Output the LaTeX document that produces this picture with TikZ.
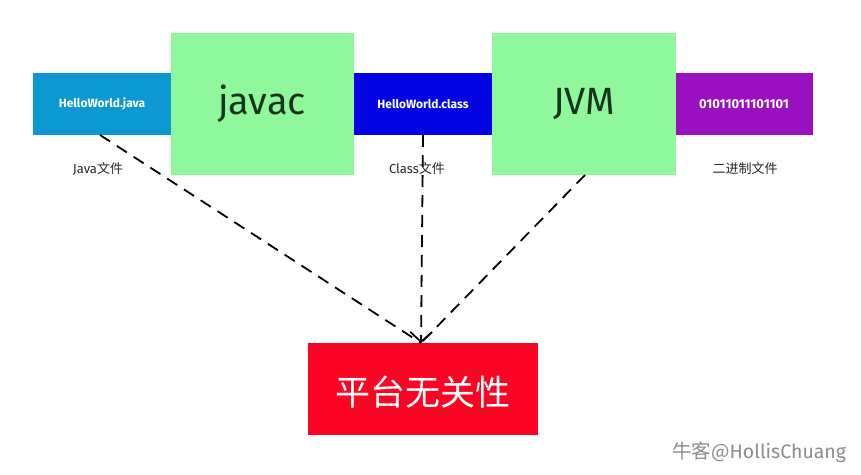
\documentclass[tikz,border=0pt]{standalone}
\usepackage{fontspec}
\setmainfont{Noto Sans CJK SC}
\newfontfamily\latinf{Fira Sans}
\usetikzlibrary{arrows.meta}
\definecolor{javablue}{RGB}{12,152,208}
\definecolor{boxgreen}{RGB}{144,248,156}
\definecolor{classblue}{RGB}{4,4,226}
\definecolor{binpurple}{RGB}{154,16,192}
\definecolor{platred}{RGB}{252,4,36}
\definecolor{inkgreen}{RGB}{24,52,28}
\begin{document}
\begin{tikzpicture}[x=1pt,y=-1pt,
  filebox/.style={inner sep=0pt, text=white, font=\latinf\bfseries\fontsize{12}{14}\selectfont},
  toolbox/.style={inner sep=0pt, text=inkgreen, font=\latinf\fontsize{38}{44}\selectfont},
  caption/.style={inner sep=0pt, text=black!85, font=\fontsize{13}{15}\selectfont},
  dashline/.style={line width=1.8pt, dash pattern=on 12pt off 8pt},
  tip/.style={-{Straight Barb[length=10pt,width=22pt,line width=1.7pt]}}
]
\useasboundingbox (0,0) rectangle (861,474);
\fill[white] (0,0) rectangle (861,474);
% file boxes
\fill[javablue] (33,73) rectangle (172,135);
\node[filebox] (java) at (102,104) {HelloWorld.java};
\fill[classblue] (354,73) rectangle (493,135);
\node[filebox] (class) at (423,104) {HelloWorld.class};
\fill[binpurple] (676,73) rectangle (813,135);
\node[filebox, font=\latinf\bfseries\fontsize{13}{15}\selectfont] (bin) at (744,104) {01011011101101};
% tool boxes
\fill[boxgreen] (171,33) rectangle (354,175);
\node[toolbox] (javac) at (262,104) {javac};
\fill[boxgreen] (492,33) rectangle (676,175);
\node[toolbox] (jvm) at (584,104) {JVM};
% captions
\node[caption] (cj) at (98,169) {{\latinf Java}文件};
\node[caption] (cc) at (417,169) {{\latinf Class}文件};
\node[caption] (cb) at (745,169) {二进制文件};
% platform box
\fill[platred] (308,343) rectangle (538,435);
\node[inner sep=0pt, text=white, font=\fontsize{35}{40}\selectfont] (plat) at (423,392) {平台无关性};
\coordinate (tipc) at (421,343);
\coordinate (javaout) at (100,135);
\coordinate (classout) at (423,135);
\coordinate (jvmout) at (585,175);
\draw[dashline] (javaout) -- (tipc);
\draw[dashline] (jvmout) -- (tipc);
\draw[dashline, tip] (classout) -- (tipc);
% watermark
\node[inner sep=0pt, anchor=west, text=black!45, font=\fontsize{19.5}{22}\selectfont] (wm) at (672,452) {牛客@{\latinf HollisChuang}};
\end{tikzpicture}
\end{document}
